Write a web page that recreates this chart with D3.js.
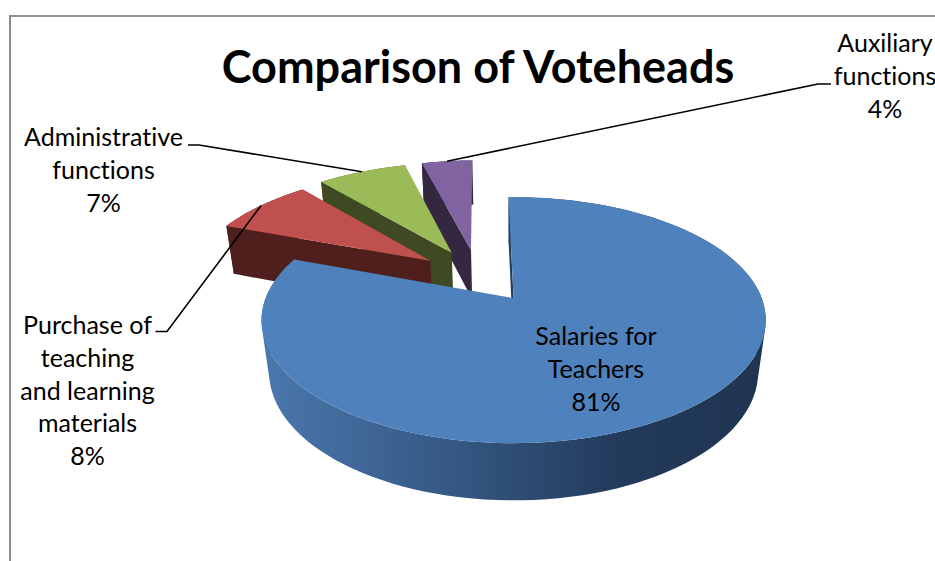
<!DOCTYPE html>
<html>
<head>
<meta charset="utf-8">
<style>
  html, body { margin: 0; padding: 0; background: #fff; }
  svg { display: block; }
  text { font-family: Lato, "Open Sans", sans-serif; fill: #000; font-variant-ligatures: none; }
</style>
<script src="https://cdn.jsdelivr.net/npm/d3@7/dist/d3.min.js"></script>
</head>
<body>
<svg id="chart" width="935" height="561"></svg>
<script>
// Budget shares per votehead
const categories = ["Salaries for Teachers", "Purchase of teaching and learning materials", "Administrative functions", "Auxiliary functions"];
const shares = [81, 8, 7, 4];
const title = "Comparison of Voteheads";
const labelLines = [
  ["Salaries for", "Teachers"],
  ["Purchase of", "teaching", "and learning", "materials"],
  ["Administrative", "functions"],
  ["Auxiliary", "functions"]
];
const topColours = ["#4f81bd", "#c0504d", "#9bbb59", "#8064a2"];
const sideColours = ["#24405f", "#4f1f1d", "#3f4a23", "#33283f"];

// Layout of the perspective view
const W = 935, H = 561;
const view = { x0: 514, y0: 298, sx: 248, sy: 119, tilt: 0.179, drop: 53, shrink: 0.03 };
const explode = [0.2534, 0.2415];
const hub = [-0.149, 0.195];
const rotation = -1.4 * Math.PI / 180;
const reach = [1, 1.005, 1.025, 1.025];
const labelPlace = [
  { x: 596, y: 345, step: 32.8 },
  { x: 87.5, y: 334, step: 32.8 },
  { x: 103.5, y: 146, step: 32.8 },
  { x: 885, y: 52, step: 32.8 }
];
const elbows = [
  null,
  [[155.5, 331.5], [167, 331.5]],
  [[188, 145], [199, 145]],
  [[831, 84], [818, 84]]
];

const svg = d3.select("#chart");

// Plane point (u, v) with v pointing away from the viewer; z = 1 is the pie's underside
function project(u, v, z) {
  const w = 1 + view.tilt * v + view.shrink * z;
  return [view.x0 + view.sx * u / w, view.y0 + (view.drop * z - view.sy * v) / w];
}

const slices = d3.pie().sort(null).value(d => d)
  .startAngle(rotation).endAngle(rotation + 2 * Math.PI)(shares);

slices.forEach((s, i) => {
  const mid = (s.startAngle + s.endAngle) / 2;
  s.mid = mid;
  s.apex = [hub[0] + explode[0] * Math.sin(mid), hub[1] + explode[1] * Math.cos(mid)];
  s.rim = (a, z) => project(s.apex[0] + reach[i] * Math.sin(a), s.apex[1] + reach[i] * Math.cos(a), z);
  s.angles = d3.range(0, 121).map(k => s.startAngle + (s.endAngle - s.startAngle) * k / 120);
});

const path = d3.line();

// One subpath per wall segment, all wound the same way, so folds of the strip stay filled
function wallPath(top, bottom) {
  return d3.pairs(d3.range(top.length)).map(([a, b]) => {
    const quad = [top[a], top[b], bottom[b], bottom[a]];
    return path(d3.polygonArea(quad) < 0 ? quad.reverse() : quad) + "Z";
  }).join("");
}

const defs = svg.append("defs");
const wall = defs.append("linearGradient").attr("id", "wallShade")
  .attr("gradientUnits", "userSpaceOnUse")
  .attr("x1", 262).attr("x2", 767).attr("y1", 0).attr("y2", 0);
wall.append("stop").attr("offset", 0).attr("stop-color", "#4a78ae");
wall.append("stop").attr("offset", 0.72).attr("stop-color", "#223a5b");
wall.append("stop").attr("offset", 1).attr("stop-color", "#1f3450");

// Chart area frame: only the top and left edges fall inside the view
svg.append("path")
  .attr("d", path([[10, H], [10, 16], [W, 16]]))
  .attr("fill", "none").attr("stroke", "#8c8c8c").attr("stroke-width", 2);

svg.append("text").attr("x", 478).attr("y", 83)
  .attr("text-anchor", "middle").attr("font-weight", 700).attr("font-size", 45)
  .text(title);

// Far slices first so nearer ones cover them
const order = d3.range(slices.length).reverse();
const pieG = svg.append("g");
order.forEach(i => {
  const s = slices[i];
  const g = pieG.append("g").attr("class", "slice").attr("aria-label", categories[i]);
  const top = s.angles.map(a => s.rim(a, 0));
  const bottom = s.angles.map(a => s.rim(a, 1));
  const apexTop = project(s.apex[0], s.apex[1], 0);
  const apexBottom = project(s.apex[0], s.apex[1], 1);
  // Outer wall
  g.append("path").attr("d", wallPath(top, bottom))
    .attr("fill", i === 0 ? "url(#wallShade)" : sideColours[i]);
  // Cut face on the leading edge
  g.append("path").attr("d", path([apexTop, top[0], bottom[0], apexBottom]) + "Z")
    .attr("fill", sideColours[i]);
  // Top face
  g.append("path").attr("d", path([apexTop].concat(top)) + "Z")
    .attr("fill", topColours[i]);
});

// Leader lines from outside labels to each slice's rim
slices.forEach((s, i) => {
  if (!elbows[i]) return;
  svg.append("path")
    .attr("d", path(elbows[i].concat([s.rim(s.mid, 0)])))
    .attr("fill", "none").attr("stroke", "#000").attr("stroke-width", 1.6);
});

// Labels: name lines followed by the share
const total = d3.sum(shares);
const fmt = d3.format(".0%");
labelPlace.forEach((p, i) => {
  const t = svg.append("text").attr("text-anchor", "middle").attr("font-size", 25);
  labelLines[i].concat(fmt(shares[i] / total)).forEach((line, j) => {
    t.append("tspan").attr("x", p.x).attr("y", p.y + j * p.step).text(line);
  });
});
</script>
</body>
</html>
